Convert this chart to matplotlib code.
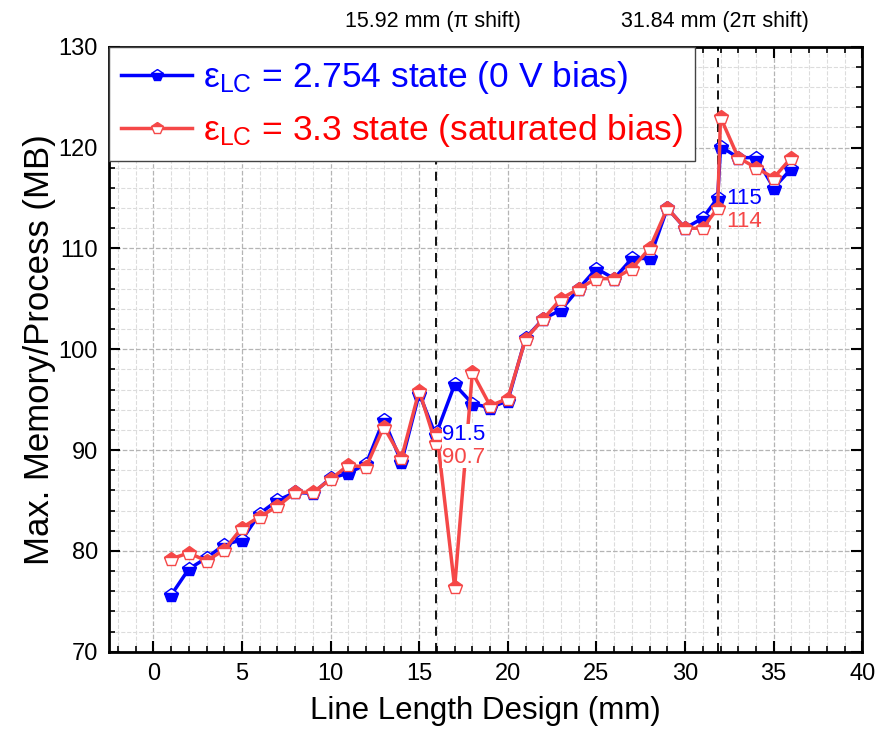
import matplotlib
matplotlib.use('Agg')
import matplotlib.pyplot as plt
from matplotlib.ticker import MultipleLocator
import matplotlib.transforms as mtransforms

plt.rcParams['font.family'] = ['Liberation Sans', 'DejaVu Sans']
plt.rcParams['mathtext.fontset'] = 'custom'
plt.rcParams['mathtext.rm'] = 'Liberation Sans'
plt.rcParams['mathtext.it'] = 'Liberation Sans:italic'

# Dados
comprimento = [1, 2, 3, 4, 5, 6, 7, 8, 9, 10, 11, 12, 13, 14, 15, 15.92, 16,
               17, 18, 19, 20, 21, 22, 23, 24, 25, 26, 27, 28, 29, 30, 31,
               31.84, 32, 33, 34, 35, 36]
mem_0v = [75.6, 78.2, 79.3, 80.6, 81.1, 83.7, 85.0, 85.8, 85.7, 87.2, 87.7,
          88.6, 93.0, 88.8, 95.6, 91.5, 91.8, 96.5, 94.6, 94.2, 94.9, 101.1,
          103.0, 103.9, 106.0, 108.0, 107.0, 109.0, 109.0, 114.0, 112.0, 113.0,
          115.0, 120.1, 119.0, 119.0, 116.0, 117.9]
mem_sat = [79.2, 79.8, 79.0, 80.1, 82.3, 83.4, 84.4, 85.8, 85.8, 87.1, 88.5,
           88.3, 92.3, 89.2, 95.9, 90.7, 91.6, 76.4, 97.7, 94.4, 95.1, 101.0,
           103.0, 105.0, 106.0, 107.0, 107.0, 108.0, 110.0, 114.0, 112.0, 112.0,
           114.0, 123.0, 119.0, 118.0, 117.0, 119.0]
linhas_shift = [15.92, 31.84]
textos_shift = ['15.92 mm (π shift)', '31.84 mm (2π shift)']

azul = '#0000FF'
vermelho = '#F54848'

fig = plt.figure(figsize=(8.8, 7.43), dpi=100)
ax = fig.add_axes([0.1239, 0.1229, 0.856, 0.8142])

ax.plot(comprimento, mem_0v, color=azul, lw=2.5, marker='p', ms=10.5,
        fillstyle='bottom', markerfacecoloralt='white', mec=azul, mew=1.0,
        label='ε$_{\\mathrm{LC}}$ = 2.754 state (0 V bias)', zorder=4)
ax.plot(comprimento, mem_sat, color=vermelho, lw=2.5, marker='p', ms=10.5,
        fillstyle='top', markerfacecoloralt='white', mec=vermelho, mew=1.0,
        label='ε$_{\\mathrm{LC}}$ = 3.3 state (saturated bias)', zorder=5)

for xv in linhas_shift:
    ax.axvline(xv, color='black', ls=(0, (5, 4)), lw=1.3, zorder=3)

trans = mtransforms.blended_transform_factory(ax.transData, ax.transAxes)
for xv, t in zip(linhas_shift, textos_shift):
    ax.text(xv - 0.15, 1.042, t, transform=trans, ha='center', va='center', fontsize=15.5)

# rotulos dos pontos
caixa = dict(facecolor='white', edgecolor='none', pad=0.5)
ax.text(16.3, 91.5, '91.5', color=azul, fontsize=16, va='center', bbox=caixa, zorder=6)
ax.text(16.3, 89.3, '90.7', color=vermelho, fontsize=16, va='center', bbox=caixa, zorder=6)
ax.text(32.3, 114.9, '115', color=azul, fontsize=16, va='center', zorder=6)
ax.text(32.3, 112.7, '114', color=vermelho, fontsize=16, va='center', zorder=6)

ax.set_xlim(-2.5, 40)
ax.set_ylim(70, 130)
ax.xaxis.set_major_locator(MultipleLocator(5))
ax.xaxis.set_minor_locator(MultipleLocator(1))
ax.yaxis.set_major_locator(MultipleLocator(10))
ax.yaxis.set_minor_locator(MultipleLocator(2))
ax.grid(which='major', ls='--', color='#b4b4b4', lw=0.9)
ax.grid(which='minor', ls='--', color='#dcdcdc', lw=0.8)
ax.set_axisbelow(True)
ax.tick_params(which='both', direction='in', top=True, right=True, labelsize=17)
ax.tick_params(which='major', length=8, width=1.5, pad=8)
ax.tick_params(which='minor', length=4, width=1.2)
for s in ax.spines.values():
    s.set_linewidth(2)

ax.set_xlabel('Line Length Design (mm)', fontsize=22.5, labelpad=8)
ax.set_ylabel('Max. Memory/Process (MB)', fontsize=25, labelpad=2)

leg = ax.legend(loc='upper left', bbox_to_anchor=(0, 1), borderaxespad=0,
                fontsize=25.5, handlelength=2.0, handletextpad=0.3,
                labelspacing=0.45, fancybox=False, framealpha=1,
                edgecolor='#444444', borderpad=0.35, markerscale=0.8)
leg.set_zorder(10)
leg.get_frame().set_linewidth(1.0)
for txt, c in zip(leg.get_texts(), [azul, '#FF0000']):
    txt.set_color(c)

fig.savefig('out.png', dpi=100)
